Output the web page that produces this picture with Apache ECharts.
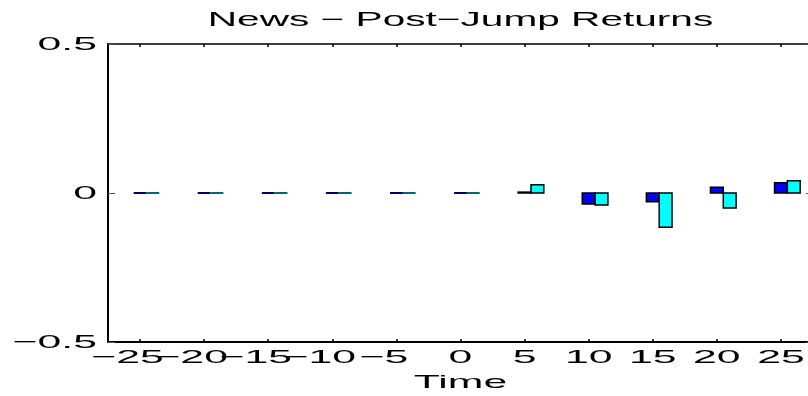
<!DOCTYPE html>
<html>
<head>
<meta charset="utf-8">
<script src="https://cdn.jsdelivr.net/npm/echarts@6/dist/echarts.min.js"></script>
<style>
  html, body { margin: 0; padding: 0; background: #fff; }
  #chart { width: 808px; height: 396px; }
</style>
</head>
<body>
<div id="chart"></div>
<script>
// ---- data ----
const times = [-25, -20, -15, -10, -5, 0, 5, 10, 15, 20, 25];
const seriesBlue = [0, 0, 0, 0, 0, 0, 0.003, -0.037, -0.029, 0.019, 0.034];
const seriesCyan = [0, 0, 0, 0, 0, 0, 0.028, -0.040, -0.115, -0.050, 0.041];
const xTicks = [-25, -20, -15, -10, -5, 0, 5, 10, 15, 20, 25];
const xTickLabels = ['\u221225', '\u221220', '\u221215', '\u221210', '\u22125', '0', '5', '10', '15', '20', '25'];
const yTicks = [-0.5, 0, 0.5];
const yTickLabels = ['\u22120.5', '0', '0.5'];
const titleText = 'News \u2212 Post\u2212Jump Returns';
const xAxisTitle = 'Time';

// ---- layout / style ----
const X_MIN = -27.5, X_MAX = 27.5, Y_MIN = -0.5, Y_MAX = 0.5;
const GRID = { left: 108, top: 44, width: 705, height: 298 };
const FONT_FAMILY = '"Liberation Sans", Arial, Helvetica, sans-serif';
const TICK_FONT = '19px ' + FONT_FAMILY;
const TITLE_FONT = '20px ' + FONT_FAMILY;
const SX_TICK = 2.25;
const SX_TITLE = 2.03;

const measureCtx = document.createElement('canvas').getContext('2d');
function textWidth(str, font) {
  measureCtx.font = font;
  return measureCtx.measureText(str).width;
}

function barRender(offset, fillColor, zeroColor) {
  return function (params, api) {
    const t = api.value(0), v = api.value(1);
    const p0 = api.coord([t + offset - 0.5, 0]);
    const p1 = api.coord([t + offset + 0.5, v]);
    if (v === 0) {
      return {
        type: 'line',
        shape: { x1: p0[0], y1: p0[1], x2: p1[0], y2: p0[1] },
        style: { stroke: zeroColor, lineWidth: 2 }
      };
    }
    return {
      type: 'rect',
      shape: {
        x: p0[0], y: Math.min(p0[1], p1[1]),
        width: p1[0] - p0[0], height: Math.abs(p1[1] - p0[1])
      },
      style: { fill: fillColor, stroke: '#000', lineWidth: 1.5 }
    };
  };
}

const chart = echarts.init(document.getElementById('chart'), null, { renderer: 'canvas' });

const option = {
  backgroundColor: '#ffffff',
  animation: false,
  grid: {
    left: GRID.left, top: GRID.top, width: GRID.width, height: GRID.height,
    containLabel: false, outerBoundsMode: 'none'
  },
  xAxis: [
    {
      type: 'value', min: X_MIN, max: X_MAX, position: 'bottom',
      axisLine: { show: true, onZero: false, lineStyle: { color: '#000', width: 2 } },
      axisTick: { show: true, inside: true, length: 3, customValues: xTicks, lineStyle: { color: '#000', width: 1.5 } },
      axisLabel: { show: false },
      splitLine: { show: false }
    },
    {
      type: 'value', min: X_MIN, max: X_MAX, position: 'top',
      axisLine: { show: true, onZero: false, lineStyle: { color: '#000', width: 1.5 } },
      axisTick: { show: true, inside: true, length: 3, customValues: xTicks, lineStyle: { color: '#000', width: 1.5 } },
      axisLabel: { show: false },
      splitLine: { show: false }
    }
  ],
  yAxis: [
    {
      type: 'value', min: Y_MIN, max: Y_MAX, interval: 0.5, position: 'left',
      axisLine: { show: true, onZero: false, lineStyle: { color: '#000', width: 2 } },
      axisTick: { show: true, inside: true, length: 7, lineStyle: { color: '#555', width: 1 } },
      axisLabel: { show: false },
      splitLine: { show: false }
    },
    {
      type: 'value', min: Y_MIN, max: Y_MAX, interval: 0.5, position: 'right',
      axisLine: { show: true, onZero: false, lineStyle: { color: '#000', width: 2 } },
      axisTick: { show: true, inside: true, length: 7, lineStyle: { color: '#555', width: 1 } },
      axisLabel: { show: false },
      splitLine: { show: false }
    }
  ],
  series: [
    {
      name: 'Blue', type: 'custom', silent: true,
      renderItem: barRender(0, '#0000ff', '#00006a'),
      encode: { x: 0, y: 1 },
      data: times.map((t, i) => [t, seriesBlue[i]])
    },
    {
      name: 'Cyan', type: 'custom', silent: true,
      renderItem: barRender(1, '#00ffff', '#006a6a'),
      encode: { x: 0, y: 1 },
      data: times.map((t, i) => [t, seriesCyan[i]])
    },
    {
      name: 'xlabels', type: 'custom', silent: true, clip: false,
      renderItem: function (params, api) {
        const t = api.value(0);
        const p = api.coord([t, Y_MIN]);
        const label = xTickLabels[params.dataIndex];
        const digits = label.replace('\u2212', '');
        const w = textWidth(digits, TICK_FONT) * SX_TICK;
        return {
          type: 'text', x: p[0] + w / 2, y: p[1] + 16, scaleX: SX_TICK,
          style: { text: label, font: TICK_FONT, fill: '#000', align: 'right', verticalAlign: 'middle' }
        };
      },
      data: xTicks.map(t => [t, Y_MIN])
    },
    {
      name: 'ylabels', type: 'custom', silent: true, clip: false,
      renderItem: function (params, api) {
        const v = api.value(1);
        const p = api.coord([X_MIN, v]);
        return {
          type: 'text', x: p[0] - 11, y: p[1] + 1, scaleX: SX_TICK,
          style: { text: yTickLabels[params.dataIndex], font: TICK_FONT, fill: '#000', align: 'right', verticalAlign: 'middle' }
        };
      },
      data: yTicks.map(v => [X_MIN, v])
    }
  ],
  graphic: [
    {
      type: 'text', x: GRID.left + GRID.width / 2, y: 20, scaleX: SX_TITLE, silent: true,
      style: { text: titleText, font: TITLE_FONT, fill: '#000', align: 'center', verticalAlign: 'middle' }
    },
    {
      type: 'text', x: GRID.left + GRID.width / 2, y: 383, scaleX: SX_TICK, silent: true,
      style: { text: xAxisTitle, font: TICK_FONT, fill: '#000', align: 'center', verticalAlign: 'middle' }
    }
  ]
};

chart.setOption(option);
</script>
</body>
</html>
